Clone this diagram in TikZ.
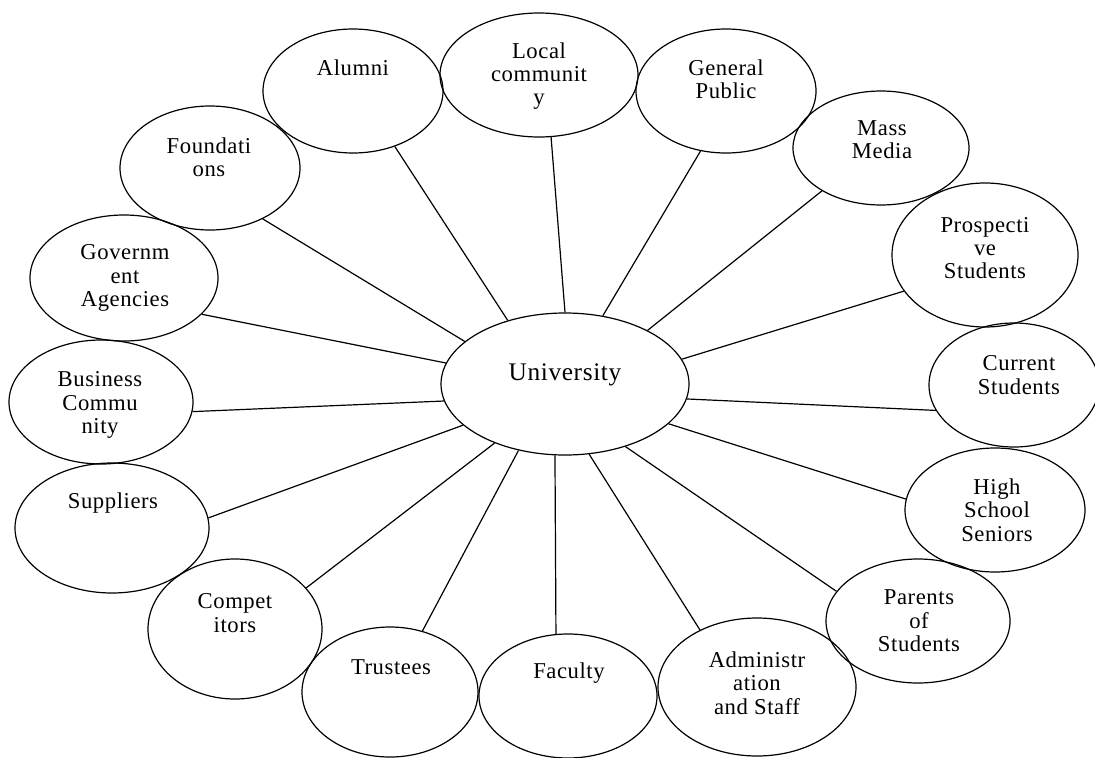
\documentclass[tikz,border=0pt]{standalone}
\usepackage{fontspec}
\setmainfont{Liberation Serif}[LetterSpace=2.5]
\usetikzlibrary{shapes.geometric}
\tikzset{
  ell/.style={draw, ellipse, inner sep=0pt, line width=0.9pt},
  sz/.style 2 args={minimum width=#1*1.5pt, minimum height=#2*1.5pt},
  txt/.style={align=center, inner sep=0pt, font=\fontsize{17}{17.5}\selectfont},
  conn/.style={draw, line width=0.9pt}
}
\begin{document}
\begin{tikzpicture}[x=0.75pt, y=-0.75pt]
\useasboundingbox (0,0) rectangle (1095,757);
% ellipses
\node[ell, sz={124}{71}] (univ) at (565,384) {};
\node[ell, sz={90}{62}] (alumni) at (353,91) {};
\node[ell, sz={99}{62}] (local) at (539,75) {};
\node[ell, sz={90}{62}] (public) at (726,91) {};
\node[ell, sz={88}{57}] (media) at (881,148) {};
\node[ell, sz={93}{72}] (prosp) at (985,255) {};
\node[ell, sz={85}{62}] (current) at (1014,385) {};
\node[ell, sz={90}{62}] (seniors) at (995,510) {};
\node[ell, sz={92}{62}] (parents) at (918,621) {};
\node[ell, sz={99}{69}] (admin) at (757,687) {};
\node[ell, sz={89}{62}] (faculty) at (568,696) {};
\node[ell, sz={88}{65}] (trustees) at (390,692) {};
\node[ell, sz={87}{70}] (compet) at (235,629) {};
\node[ell, sz={97}{65}] (suppliers) at (112,528) {};
\node[ell, sz={92}{62}] (business) at (101,402) {};
\node[ell, sz={94}{63}] (gov) at (124,278) {};
\node[ell, sz={90}{62}] (found) at (210,168) {};
% texts
\node[txt, font=\fontsize{19}{20}\selectfont] (t-univ) at (565,375) {University};
\node[txt] (t-alumni) at (353,68) {Alumni};
\node[txt] (t-local) at (539,76) {Local\\communit\\y};
\node[txt] (t-public) at (726,79) {General\\Public};
\node[txt] (t-media) at (882,140) {Mass\\Media};
\node[txt] (t-prosp) at (985,248) {Prospecti\\ve\\Students};
\node[txt] (t-current) at (1019,375) {Current\\Students};
\node[txt] (t-seniors) at (997,510) {High\\School\\Seniors};
\node[txt] (t-parents) at (919,621) {Parents\\of\\Students};
\node[txt] (t-admin) at (757,683) {Administr\\ation\\and Staff};
\node[txt] (t-faculty) at (569,673) {Faculty};
\node[txt] (t-trustees) at (391,667) {Trustees};
\node[txt] (t-compet) at (235,613) {Compet\\itors};
\node[txt] (t-suppliers) at (113,503) {Suppliers};
\node[txt] (t-business) at (100,405) {Business\\Commu\\nity};
\node[txt] (t-gov) at (125,278) {Governm\\ent\\Agencies};
\node[txt] (t-found) at (209,157) {Foundati\\ons};
% connectors
\draw[conn] (univ.132.2) -- (alumni.-53.3);
\draw[conn] (univ.90.8) -- (local.-79.9);
\draw[conn] (univ.61.8) -- (public.-113.4);
\draw[conn] (univ.33) -- (media.-144.2);
\draw[conn] (univ.12.4) -- (prosp.-156);
\draw[conn] (univ.-7.4) -- (current.-162.4);
\draw[conn] (univ.-21.3) -- (seniors.173.6);
\draw[conn] (univ.-46.4) -- (parents.160.3);
\draw[conn] (univ.-71.3) -- (admin.135);
\draw[conn] (univ.-98.7) -- (faculty.101);
\draw[conn] (univ.-125.2) -- (trustees.62);
\draw[conn] (univ.-140.2) -- (compet.30.3);
\draw[conn] (univ.-158.4) -- (suppliers.6.4);
\draw[conn] (univ.-172.6) -- (business.-6.8);
\draw[conn] (univ.170.2) -- (gov.-25.6);
\draw[conn] (univ.157.2) -- (found.-44.5);
\end{tikzpicture}
\end{document}
